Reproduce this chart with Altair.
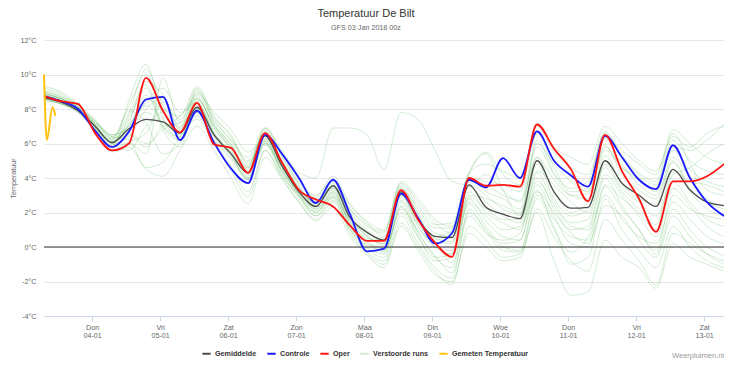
import altair as alt
import pandas as pd

# 6-hourly time grid (local time), Jan 3 07:00 .. Jan 13 07:00
times = [t.strftime("%Y-%m-%dT%H:%M:%S") for t in pd.date_range("2018-01-03 07:00", periods=41, freq="6h")]

gemiddelde = [8.65, 8.4, 7.9, 7.0, 6.05, 6.85, 7.4, 7.25, 6.6, 8.1,
              6.5, 5.4, 4.3, 6.45, 4.7, 3.2, 2.35, 3.55, 1.7, 0.85,
              0.4, 3.2, 1.6, 0.62, 0.55, 3.6, 2.3, 1.9, 1.65, 5.0,
              3.2, 2.25, 2.3, 5.0, 3.7, 3.0, 2.35, 4.5, 3.3, 2.6, 2.4]
controle = [8.75, 8.45, 8.0, 6.75, 5.8, 6.7, 8.55, 8.7, 6.2, 7.9,
            6.05, 4.55, 3.7, 6.5, 5.4, 4.0, 2.55, 3.9, 1.9, -0.25,
            -0.1, 3.1, 1.7, 0.2, 0.8, 3.9, 3.45, 5.15, 4.0, 6.7,
            5.0, 4.15, 3.5, 6.45, 5.2, 3.9, 3.35, 5.9, 4.0, 2.6, 1.8]
oper = [8.75, 8.45, 8.3, 6.6, 5.6, 6.0, 9.8, 7.9, 6.65, 8.35,
        5.95, 5.75, 4.3, 6.6, 4.9, 3.3, 2.75, 2.35, 1.25, 0.35,
        0.35, 3.3, 1.6, 0.25, -0.57, 4.0, 3.55, 3.6, 3.5, 7.1,
        5.7, 4.5, 2.65, 6.5, 4.4, 2.8, 0.88, 3.8, 3.8, 4.1, 4.8]

gemeten_tijd = ["2018-01-03T07:00:00", "2018-01-03T08:00:00", "2018-01-03T10:00:00", "2018-01-03T11:00:00"]
gemeten = [10.0, 6.2, 8.1, 7.6]

leden = [
    [9.1, 8.8, 8.2, 7.3, 6.4, 7.8, 10.3, 8.2, 6.9, 9.0, 7.4, 6.2, 5.2, 6.9, 5.6, 4.3, 4.0, 6.9, 6.9, 6.5,
     4.5, 7.8, 7.4, 5.6, 3.8, 3.6, 4.2, 3.3, 2.6, 5.2, 3.9, 3.0, 3.1, 5.8, 4.6, 3.9, 3.4, 5.6, 4.5, 3.8, 3.5],
    [8.9, 8.6, 8.0, 7.0, 5.8, 8.5, 10.6, 7.5, 6.2, 8.3, 6.6, 5.5, 4.4, 6.3, 4.8, 3.4, 2.6, 3.4, 1.8, 0.6,
     0.2, 3.0, 1.2, 0.0, -0.2, 3.2, 2.0, 1.4, 1.0, 4.3, 2.6, 1.4, 1.6, 4.8, 3.4, 2.6, 1.8, 3.8, 2.6, 1.6, 1.2],
    [8.6, 8.3, 7.9, 6.8, 5.6, 6.0, 5.4, 9.8, 7.2, 9.2, 7.5, 6.5, 4.8, 6.6, 5.0, 3.3, 2.2, 3.2, 1.4, 0.3,
     -0.3, 2.6, 0.9, -0.6, -1.2, 2.8, 1.5, 0.6, 0.4, 3.6, 1.8, 0.2, 0.0, 3.5, 2.2, 1.0, -0.4, 2.2, 1.0, 0.0, -0.5],
    [8.8, 8.5, 8.0, 7.1, 6.2, 6.6, 6.0, 6.8, 7.6, 8.6, 7.0, 6.0, 4.6, 6.4, 4.6, 3.0, 2.0, 3.2, 1.2, 0.2,
     0.0, 3.3, 2.0, 0.8, 0.6, 4.2, 5.5, 4.2, 3.6, 7.0, 5.5, 4.6, 4.2, 6.6, 5.2, 4.2, 3.6, 6.2, 5.0, 4.4, 4.2],
    [9.2, 8.9, 8.2, 7.3, 6.5, 7.0, 8.8, 7.0, 6.4, 7.8, 6.2, 5.2, 4.0, 6.0, 4.4, 3.0, 1.8, 2.9, 1.0, -0.3,
     -0.8, 1.8, 0.2, -1.2, -1.8, 2.2, 0.9, -0.2, -0.3, 2.8, 1.2, -1.0, -0.6, 2.8, 1.0, -0.2, -1.2, 1.2, 0.0, -0.8, -1.2],
    [8.7, 8.4, 7.9, 6.9, 5.9, 7.2, 9.6, 8.8, 7.0, 8.2, 6.8, 5.8, 4.5, 6.7, 5.2, 3.8, 2.8, 3.8, 2.2, 1.2,
     0.8, 3.6, 2.4, 1.3, 1.4, 4.0, 3.2, 2.8, 2.2, 5.8, 4.2, 3.0, 2.8, 5.6, 4.6, 4.0, 3.2, 5.8, 5.6, 6.2, 7.1],
    [8.5, 8.3, 7.9, 7.0, 6.2, 7.9, 7.2, 5.4, 6.0, 8.9, 7.8, 6.8, 5.5, 6.2, 4.5, 3.1, 2.3, 2.9, 1.5, 0.5,
     0.4, 2.9, 1.6, 0.5, 0.3, 3.5, 2.6, 1.8, 1.4, 4.8, 2.8, 1.8, 2.2, 5.3, 3.6, 2.8, 2.5, 4.9, 3.2, 2.2, 1.8],
    [8.6, 8.4, 8.0, 7.2, 6.4, 6.2, 4.6, 4.9, 6.4, 7.4, 6.0, 4.4, 2.9, 5.6, 4.0, 2.6, 1.6, 2.6, 0.8, -0.4,
     -1.0, 1.4, 0.0, -1.4, -2.2, 1.2, 0.4, -0.6, -0.4, 2.0, -0.8, -2.8, -2.6, 0.4, -0.6, -1.2, -2.4, 0.2, -0.6, -1.0, -1.4],
    [8.8, 8.6, 8.1, 7.1, 6.0, 6.4, 8.0, 8.6, 6.8, 9.1, 7.2, 5.9, 4.2, 6.5, 4.9, 3.5, 2.5, 3.7, 1.9, 0.9,
     0.4, 3.5, 1.9, 0.4, 0.9, 4.3, 5.4, 3.3, 1.8, 6.2, 4.3, 3.4, 3.8, 6.7, 5.3, 4.3, 3.8, 6.6, 4.8, 3.3, 3.0],
    [9.0, 8.7, 8.2, 7.1, 6.1, 7.4, 9.2, 6.8, 5.8, 8.5, 7.1, 5.6, 4.1, 6.1, 4.3, 2.9, 2.0, 3.0, 1.3, -0.1,
     -0.6, 2.3, 0.6, -0.8, -0.6, 2.5, 1.2, 0.2, 0.4, 3.3, 1.0, -0.3, 0.6, 3.0, 1.6, 0.6, 0.2, 2.6, 1.6, 0.6, 0.2],
    [8.7, 8.5, 8.0, 7.0, 6.0, 5.6, 7.0, 7.8, 6.2, 8.0, 6.4, 5.3, 4.0, 6.2, 4.7, 3.3, 2.7, 3.5, 2.0, 1.0,
     0.5, 3.0, 1.4, 0.3, 0.2, 3.0, 2.8, 2.4, 2.0, 4.4, 3.6, 2.6, 2.0, 4.6, 3.2, 2.2, 1.3, 4.4, 3.8, 3.6, 3.2],
    [8.9, 8.6, 8.1, 7.3, 6.3, 8.2, 10.0, 7.8, 6.6, 8.7, 6.9, 5.7, 4.6, 6.9, 5.3, 3.6, 2.4, 3.3, 1.6, 0.7,
     0.1, 3.2, 1.7, 0.6, 1.0, 3.8, 3.6, 3.0, 2.7, 6.0, 4.8, 3.8, 3.2, 6.3, 4.8, 3.6, 3.0, 5.2, 4.0, 2.8, 2.4],
    [8.6, 8.3, 7.8, 6.8, 5.7, 6.8, 8.4, 9.2, 7.8, 8.4, 6.6, 5.4, 3.9, 5.9, 4.2, 2.8, 1.8, 2.7, 1.1, 0.0,
     -0.4, 2.4, 0.8, -0.5, -1.5, 1.8, 0.8, 0.4, 0.8, 3.8, 2.4, 1.2, 1.0, 4.0, 2.4, 1.0, -0.2, 3.0, 2.2, 1.8, 1.6],
    [8.8, 8.5, 8.0, 7.0, 6.1, 7.1, 8.2, 7.4, 6.5, 7.6, 6.1, 4.7, 3.2, 5.6, 4.1, 3.0, 2.2, 3.1, 1.5, 0.4,
     -0.2, 2.0, 0.6, -0.6, -0.4, 2.6, 1.8, 1.0, 1.2, 3.2, 2.0, 0.8, 0.2, 2.4, 1.8, 0.4, -0.6, 1.8, 0.6, -0.4, -1.0],
    [9.0, 8.7, 8.1, 7.2, 6.3, 6.9, 7.8, 7.2, 6.6, 8.0, 6.6, 5.5, 4.3, 6.6, 4.9, 3.4, 2.5, 3.6, 2.2, 1.3,
     0.9, 3.7, 2.6, 1.4, 0.8, 3.6, 3.0, 2.2, 1.9, 5.2, 3.2, 2.0, 2.6, 5.9, 4.2, 3.3, 2.8, 5.0, 3.4, 2.6, 2.2],
    [8.7, 8.4, 7.9, 6.9, 5.8, 6.1, 6.6, 8.4, 7.4, 8.8, 7.3, 6.2, 4.9, 6.1, 4.4, 3.1, 2.1, 2.8, 1.0, 0.1,
     -0.2, 2.2, 1.0, 0.2, -0.9, 2.0, 1.0, 0.0, -0.2, 3.0, 1.6, 0.6, 0.4, 3.6, 2.8, 2.0, 1.0, 4.2, 4.6, 5.4, 6.0],
    [8.9, 8.6, 8.1, 7.1, 6.0, 7.6, 9.4, 7.0, 6.2, 8.6, 7.0, 5.9, 4.7, 6.8, 5.4, 3.9, 2.9, 4.1, 2.5, 1.5,
     1.0, 3.8, 2.8, 1.6, 1.2, 4.0, 3.8, 3.6, 3.2, 6.6, 4.6, 3.2, 3.4, 6.4, 5.6, 4.8, 4.2, 6.8, 6.0, 5.2, 4.8],
    [8.6, 8.4, 7.9, 7.0, 6.1, 6.5, 5.8, 7.0, 7.2, 7.8, 6.2, 5.1, 3.9, 6.0, 4.6, 3.2, 2.6, 3.4, 1.7, 0.6,
     0.2, 2.7, 1.3, 0.0, -0.4, 2.9, 2.2, 1.6, 1.6, 4.0, 2.2, 1.0, 1.2, 4.2, 3.0, 1.8, 0.6, 3.4, 2.4, 1.2, 0.6],
    [9.3, 9.0, 8.3, 7.4, 6.5, 7.0, 8.6, 8.0, 7.6, 9.3, 7.6, 6.4, 5.0, 6.6, 5.0, 3.7, 3.0, 3.9, 2.4, 1.4,
     0.6, 3.4, 2.2, 1.1, 1.1, 4.3, 4.8, 4.4, 4.0, 7.2, 5.8, 5.2, 4.8, 7.0, 6.0, 5.0, 4.4, 6.4, 5.8, 6.6, 7.0],
    [8.5, 8.3, 7.8, 6.8, 5.5, 5.8, 4.5, 4.1, 5.6, 7.0, 5.6, 4.0, 2.5, 5.2, 3.9, 2.6, 1.5, 2.3, 0.6, -0.5,
     -1.2, 1.2, -0.2, -1.6, -2.0, 0.8, 0.0, -0.8, -0.6, 2.2, 0.6, -0.8, -1.4, 1.6, 0.4, -0.8, -2.2, 0.8, 0.2, -0.4, -0.8],
]

series_names = ["Gemiddelde", "Controle", "Oper", "Verstoorde runs", "Gemeten Temperatuur"]
series_colors = ["#4d4d4d", "#1a1aff", "#ff1414", "#cfeacf", "#ffc20e"]

dagen_tick = ["2018-01-%02dT00:00:00" % d for d in range(4, 14)]
y_ticks = [-4, -2, 0, 2, 4, 6, 8, 10, 12]

rows = []
for k, lid in enumerate(leden):
    for t, v in zip(times, lid):
        rows.append({"t": t, "temp": v, "run": "p%02d" % (k + 1)})
df_leden = pd.DataFrame(rows)

def frame(name, tt, vals):
    return pd.DataFrame({"t": tt, "temp": vals, "series": name})

df_gem = frame("Gemiddelde", times, gemiddelde)
df_con = frame("Controle", times, controle)
df_op = frame("Oper", times, oper)
df_mt = frame("Gemeten Temperatuur", gemeten_tijd, gemeten)

FONT = "Liberation Sans"
W, H = 680, 276

x_enc = alt.X(
    "t:T",
    scale=alt.Scale(domain=["2018-01-03T07:00:00", "2018-01-13T07:00:00"]),
    axis=alt.Axis(
        values=dagen_tick,
        labelExpr="[['Zon','Maa','Din','Woe','Don','Vri','Zat'][day(datum.value)], timeFormat(datum.value, '%d-%m')]",
        grid=False, domainColor="#ccd6eb", tickColor="#ccd6eb", tickSize=5,
        labelColor="#666666", labelFontSize=7.2, labelFont=FONT, labelPadding=2,
        labelLineHeight=8.5, title=None, labelFlush=False,
    ),
)
y_axis = alt.Axis(
    values=y_ticks,
    labelExpr="datum.value + '°C'",
    grid=True, gridColor="#e6e6e6", domain=False, ticks=False,
    labelColor="#666666", labelFontSize=7.2, labelFont=FONT, labelPadding=8,
    title="Temperatuur", titleFont=FONT, titleFontSize=7.2, titleColor="#666666",
    titleFontWeight="normal", titleX=-27, titleY=H / 2, titleAlign="center",
)
y_scale = alt.Scale(domain=[-4, 12], nice=False, zero=False)
y_enc = alt.Y("temp:Q", scale=y_scale, axis=y_axis)

color_scale = alt.Scale(domain=series_names, range=series_colors)
legend = alt.Legend(
    orient="none", legendX=157, legendY=308, direction="horizontal", title=None,
    symbolType="stroke", symbolStrokeWidth=2, symbolSize=70,
    labelFont=FONT, labelFontSize=7.2, labelFontWeight="bold", labelColor="#333333",
    columnPadding=6, labelOffset=3,
)

groen = alt.Chart(df_leden).mark_line(
    interpolate="monotone", color="#2f9e2f", opacity=0.2, strokeWidth=1
).encode(x=x_enc, y=y_enc, detail="run:N")

nul = alt.Chart(pd.DataFrame({"temp": [0]})).mark_rule(color="#333333", strokeWidth=1).encode(
    y=y_enc
)

def hoofdlijn(df, width):
    return alt.Chart(df).mark_line(interpolate="monotone", strokeWidth=width).encode(
        x=x_enc, y=y_enc,
        color=alt.Color("series:N", scale=color_scale, legend=legend),
    )

credits = alt.Chart(pd.DataFrame({"c": ["Weerpluimen.nl"]})).mark_text(
    align="right", baseline="bottom", font=FONT, fontSize=7.5, color="#999999"
).encode(text="c:N", x=alt.value(W), y=alt.value(H + 44))

chart = alt.layer(
    groen, nul,
    hoofdlijn(df_gem, 1.3), hoofdlijn(df_con, 1.8), hoofdlijn(df_op, 1.8), hoofdlijn(df_mt, 2),
    credits,
).properties(
    width=W, height=H,
    autosize=alt.AutoSizeParams(type="none"),
    padding={"left": 36, "top": 32, "right": 0, "bottom": 44},
    title=alt.TitleParams(
        "Temperatuur De Bilt", subtitle="GFS 03 Jan 2018 00z",
        font=FONT, fontSize=11, fontWeight="normal", color="#333333",
        subtitleFont=FONT, subtitleFontSize=7.2, subtitleColor="#666666",
        anchor="middle", frame="group", dx=-18, offset=5, subtitlePadding=5,
    ),
).configure_view(stroke=None)

chart.save("out.html", embed_options={"renderer": "svg", "actions": False})
